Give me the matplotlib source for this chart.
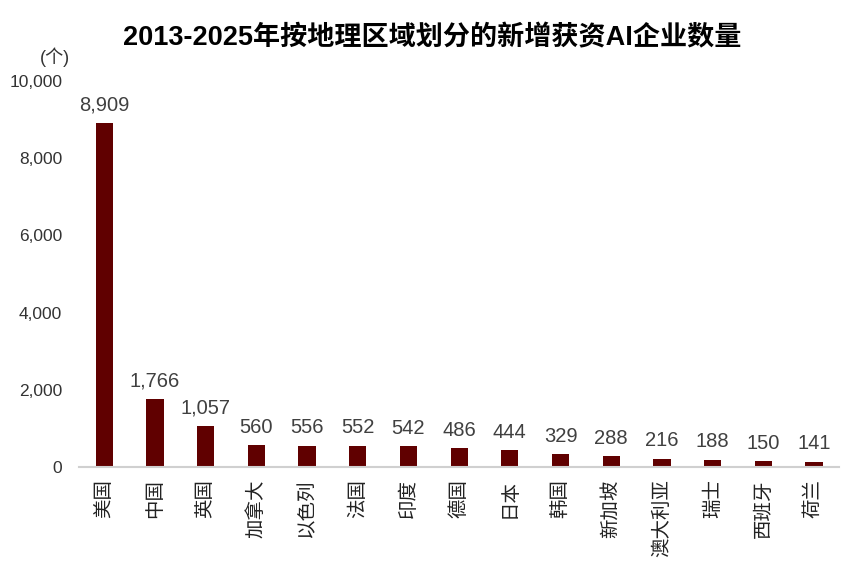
import matplotlib
matplotlib.use("Agg")
import matplotlib.pyplot as plt
from matplotlib.ticker import FuncFormatter

plt.rcParams['font.family'] = ['Liberation Sans', 'Noto Sans CJK SC', 'DejaVu Sans']

countries = ['美国', '中国', '英国', '加拿大', '以色列', '法国', '印度', '德国',
             '日本', '韩国', '新加坡', '澳大利亚', '瑞士', '西班牙', '荷兰']
counts = [8909, 1766, 1057, 560, 556, 552, 542, 486, 444, 329, 288, 216, 188, 150, 141]

bar_color = '#600000'

fig = plt.figure(figsize=(8.65, 5.73), dpi=100)
ax = fig.add_axes([0.0913, 0.185, 0.879, 0.674])

x = range(len(countries))
bars = ax.bar(x, counts, width=0.34, color=bar_color)

for xi, v in zip(x, counts):
    ax.annotate(f'{v:,}', (xi, v), xytext=(0, 6), textcoords='offset points',
                ha='center', va='bottom', fontsize=14.5, color='#404040')

ax.set_xlim(-0.5, len(countries) - 0.5)
ax.set_ylim(0, 10000)
ax.set_yticks(range(0, 10001, 2000))
ax.yaxis.set_major_formatter(FuncFormatter(lambda v, p: f'{int(v):,}'))
ax.set_xticks(list(x))
ax.set_xticklabels(countries, rotation=90, fontsize=14, color='#222222')
ax.tick_params(axis='y', length=0, labelsize=12.5, labelcolor='#333333', pad=12)
ax.tick_params(axis='x', length=0, pad=9)

for s in ['top', 'right', 'left']:
    ax.spines[s].set_visible(False)
ax.spines['bottom'].set_color('#d0d0d0')
ax.spines['bottom'].set_linewidth(1.5)

fig.text(0.5, 0.933, '2013-2025年按地理区域划分的新增获资AI企业数量',
         ha='center', va='center', fontsize=19.5, fontweight='bold')
fig.text(0.064, 0.9, '(个)', ha='center', va='center', fontsize=13, color='#333333')

fig.savefig('out.png', dpi=100)
